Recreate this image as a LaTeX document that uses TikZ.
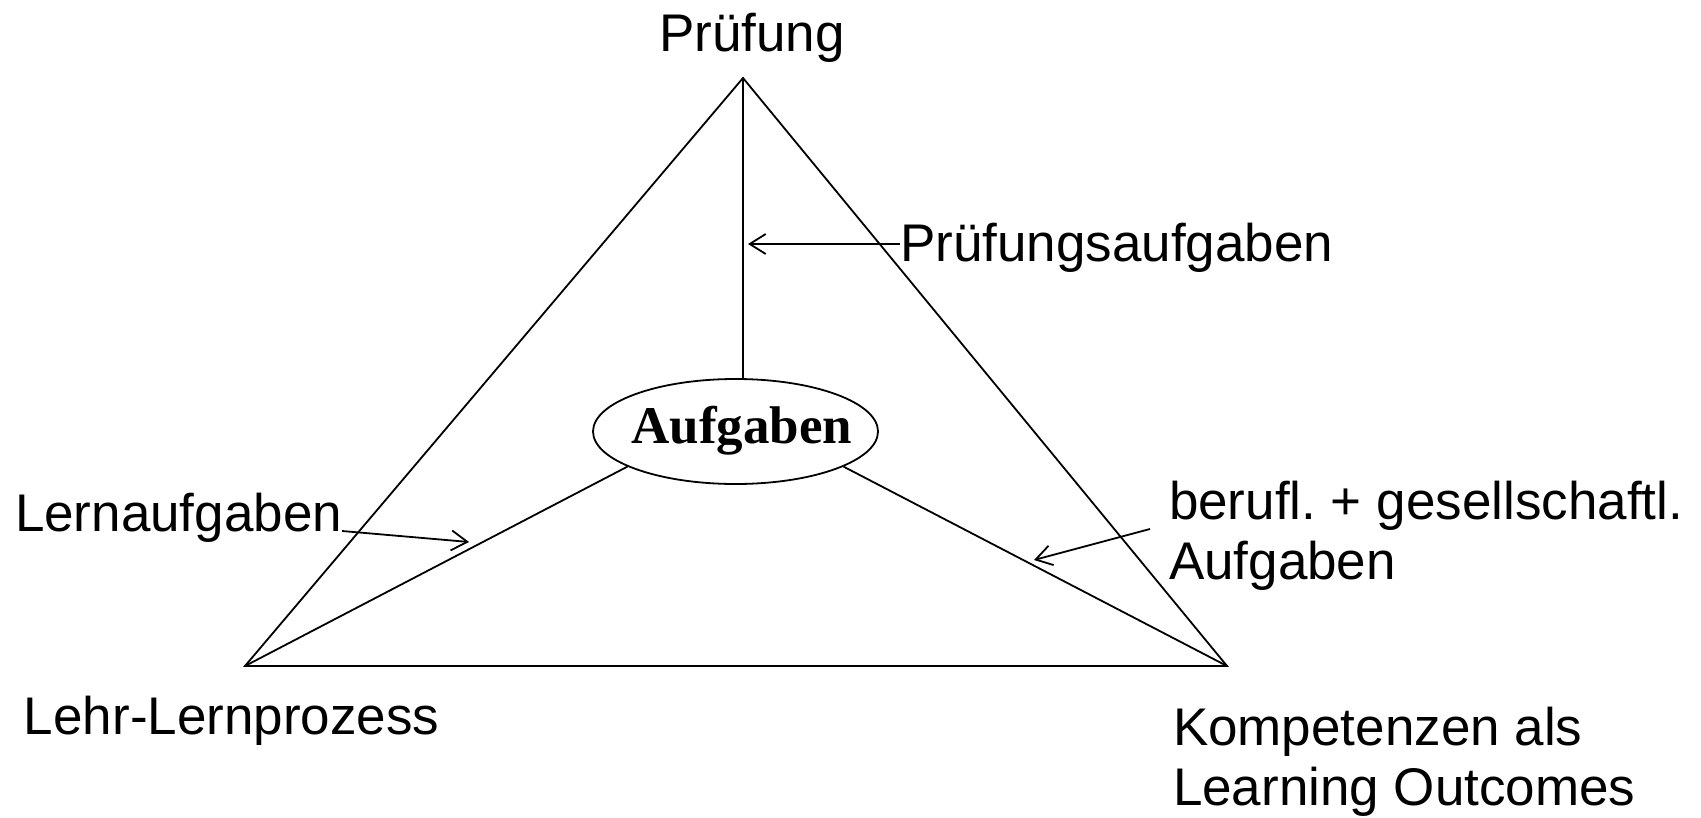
\documentclass[tikz,border=0pt]{standalone}
\usepackage{fontspec}
\setmainfont{Liberation Sans}
\newfontfamily\serifbold{Liberation Serif}
\usetikzlibrary{shapes.geometric,arrows.meta}
\begin{document}
\frenchspacing
\begin{tikzpicture}[x=0.5pt,y=-0.5pt,
  lbl/.style={inner sep=0pt,outer sep=0pt,font=\fontsize{26.5}{30}\selectfont,align=left},
  edge/.style={line width=0.9pt},
  pointer/.style={line width=0.9pt,-{Straight Barb[length=8pt,width=10pt]}}]
\useasboundingbox (0,0) rectangle (1701,818);
\coordinate (top) at (743,78);
\coordinate (bl) at (245,666);
\coordinate (br) at (1227,666);
\draw[edge] (top) -- (bl) -- (br) -- cycle;
\node[draw,ellipse,edge,minimum width=142.5pt,minimum height=52.5pt,inner sep=0pt] (ell) at (735.5,431.5) {};
\node[inner sep=0pt,anchor=base,font=\serifbold\bfseries\fontsize{26.5}{30}\selectfont] (auf) at (742,443) {Aufgaben};
\draw[edge] (top) -- (ell.north -| top);
\draw[edge] (ell.198) -- (bl);
\draw[edge] (ell.-18) -- (br);
% labels
\node[lbl,anchor=base] (pr) at (752,52) {Prüfung};
\node[lbl,anchor=base west] (pa) at (900,262) {Prüfungsaufgaben};
\node[lbl,anchor=base west] (la) at (15,531) {Lernaufgaben};
\node[lbl,anchor=base west] (ba) at (1169,579) {berufl. + gesellschaftl.\\Aufgaben};
\node[lbl,anchor=base west] (lp) at (24,734) {Lehr-Lernprozess};
\node[lbl,anchor=base west] (ko) at (1173,805) {Kompetenzen als\\Learning Outcomes};
% pointers
\coordinate (pah) at (748,244);
\coordinate (lah) at (469,542);
\coordinate (bat) at (1150,529);
\coordinate (bah) at (1034,560);
\draw[pointer] (pa.west |- pah) -- (pah);
\draw[pointer] (la.base east) -- (lah);
\draw[pointer] (bat) -- (bah);
\end{tikzpicture}
\end{document}
